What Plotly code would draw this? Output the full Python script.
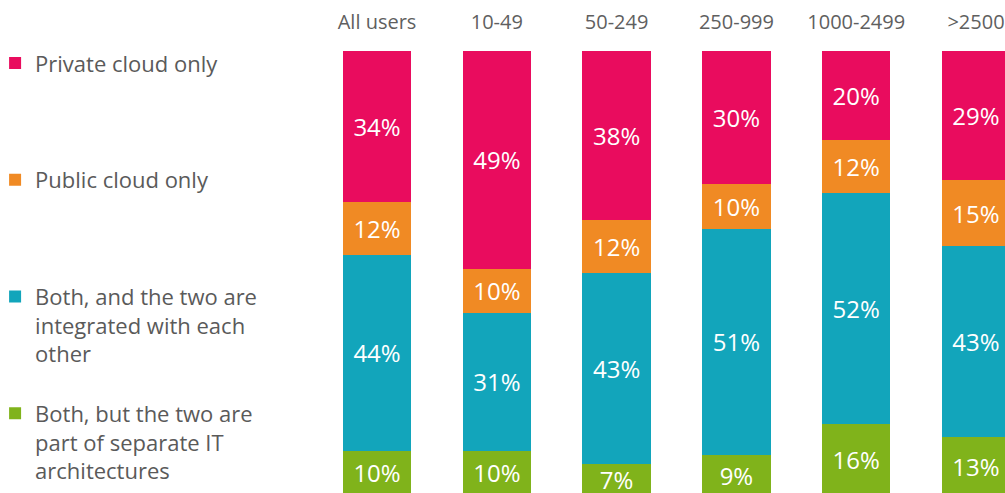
import plotly.graph_objects as go

categories = ['All users', '10-49', '50-249', '250-999', '1000-2499', '>2500']

private_only = [34, 49, 38, 30, 20, 29]
public_only = [12, 10, 12, 10, 12, 15]
both_integrated = [44, 31, 43, 51, 52, 43]
both_separate = [10, 10, 7, 9, 16, 13]

series_names = [
    'Both, but the two are<br>part of separate IT<br>architectures',
    'Both, and the two are<br>integrated with each<br>other',
    'Public cloud only<br> <br> ',
    'Private cloud only<br> <br> ',
]
series_values = [both_separate, both_integrated, public_only, private_only]
colors = ['#80B31B', '#12A5BB', '#F08A24', '#E90C5E']
legend_ranks = [4, 3, 2, 1]

fig = go.Figure()
for i, (name, vals, col) in enumerate(zip(series_names, series_values, colors)):
    fig.add_trace(go.Bar(
        x=list(range(len(categories))), y=vals, name=name,
        marker=dict(color=col, line=dict(width=0)),
        text=[f'{v}%' for v in vals],
        textposition='inside', insidetextanchor='middle',
        textfont=dict(color='white', size=24, family='Open Sans'),
        constraintext='none',
        legendgroup=f'g{i}', legendrank=legend_ranks[i],
    ))

fig.update_layout(
    barmode='stack', bargap=0.43,
    width=1005, height=493,
    margin=dict(l=300, r=0, t=51, b=0, autoexpand=False),
    paper_bgcolor='white', plot_bgcolor='white',
    font=dict(family='Open Sans', color='#5a5a5a'),
    showlegend=True,
    legend=dict(
        x=-0.4325, xanchor='left', y=1.02, yanchor='top',
        traceorder='grouped', tracegroupgap=28, maxheight=1000,
        valign='top', font=dict(size=22, color='#5a5a5a'),
        itemclick=False, bgcolor='rgba(0,0,0,0)',
    ),
)
fig.update_xaxes(
    range=[-0.643, 5.242], side='top', automargin=False,
    tickmode='array', tickvals=list(range(len(categories))), ticktext=categories,
    ticks='outside', ticklen=13, tickcolor='rgba(0,0,0,0)',
    tickfont=dict(size=20, color='#5f5f5f'),
    showgrid=False, zeroline=False, showline=False,
)
fig.update_yaxes(range=[0.45, 100], visible=False, showgrid=False, zeroline=False)

# drop the default 8px body margin so the figure fills the window
fig.write_html('out.html', config={'displayModeBar': False},
               post_script="document.body.style.margin='0';document.body.style.overflow='hidden';")
